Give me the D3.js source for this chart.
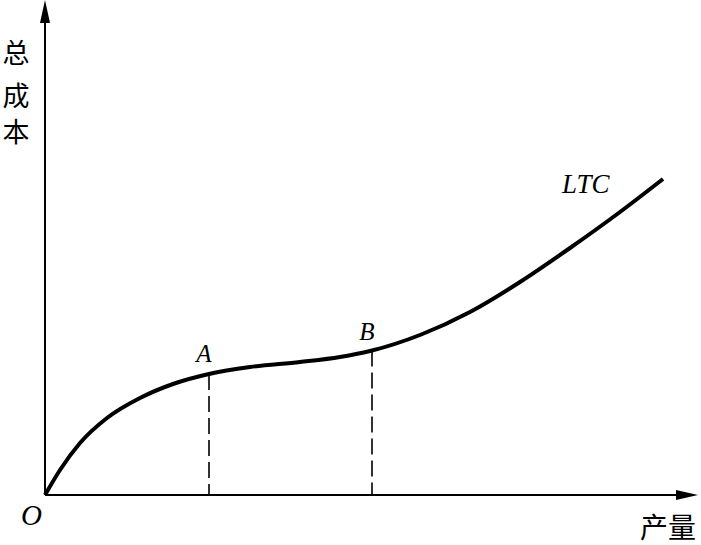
<!DOCTYPE html>
<html><head><meta charset="utf-8">
<script src="https://cdn.jsdelivr.net/npm/d3@7"></script>
<style>body{margin:0;background:#fff}svg{display:block}</style>
</head><body>
<svg id="c" width="701" height="545"></svg>
<script>
// LTC curve (output, total cost), arbitrary units
const ltcX = [0, 15, 35, 62, 95, 128, 164, 205, 255, 295, 327, 375, 425, 475, 525, 575, 618];
const ltcY = [0, 25, 52, 77, 97, 111, 121, 128, 133, 138, 144.5, 160, 183, 213, 247, 283, 316];
const markNames = ["A", "B"];
const markX = [164, 327];
const markY = [121, 144.5];
const xLabel = "产量";
const yLabel = ["总", "成", "本"];
const curveName = "LTC";
const originName = "O";

const svg = d3.select("#c");
const x = d3.scaleLinear().domain([0, 652]).range([45, 697]);
const y = d3.scaleLinear().domain([0, 495]).range([495, 0]);

// axes
svg.append("line").attr("x1", x(0)).attr("y1", y(0)).attr("x2", x(634)).attr("y2", y(0))
  .attr("stroke", "#000").attr("stroke-width", 2);
svg.append("line").attr("x1", x(0)).attr("y1", y(0)).attr("x2", x(0)).attr("y2", y(477))
  .attr("stroke", "#000").attr("stroke-width", 2);
// arrowheads
svg.append("path").attr("d", `M${x(653)},${y(0)} L${x(631)},${y(0)-5} L${x(631)},${y(0)+5} Z`).attr("fill", "#000");
svg.append("path").attr("d", `M${x(0)},${y(495)} L${x(0)-5},${y(472)} L${x(0)+5},${y(472)} Z`).attr("fill", "#000");

// dashed lines
const marks = markNames.map((n, i) => ({n, x: markX[i], y: markY[i]}));
svg.selectAll("line.d").data(marks).enter().append("line")
  .attr("x1", d => x(d.x)).attr("x2", d => x(d.x))
  .attr("y1", d => y(d.y)).attr("y2", y(0))
  .attr("stroke", "#000").attr("stroke-width", 1.6).attr("stroke-dasharray", "16,6");

// curve
const pts = ltcX.map((v, i) => [v, ltcY[i]]);
svg.append("path").datum(pts)
  .attr("d", d3.line().x(d => x(d[0])).y(d => y(d[1])).curve(d3.curveMonotoneX))
  .attr("fill", "none").attr("stroke", "#000").attr("stroke-width", 4).attr("stroke-linecap", "butt");

const serif = "'Liberation Serif','DejaVu Serif',serif";
svg.selectAll("text.m").data(marks).enter().append("text")
  .attr("x", d => x(d.x) - 5).attr("y", (d, i) => i === 0 ? 362 : 340)
  .attr("text-anchor", "middle").attr("font-family", serif).attr("font-style", "italic")
  .attr("font-size", 25).text(d => d.n);

svg.append("text").attr("x", 562).attr("y", 193).attr("font-family", serif)
  .attr("font-style", "italic").attr("font-size", 27).text(curveName);
svg.append("text").attr("x", 21).attr("y", 525).attr("font-family", serif)
  .attr("font-style", "italic").attr("font-size", 29).text(originName);

const cjk = "'Noto Sans CJK SC','Noto Sans',sans-serif";
svg.selectAll("text.y").data(yLabel).enter().append("text")
  .attr("x", 16).attr("y", (d, i) => [51, 94, 130][i])
  .attr("text-anchor", "middle").attr("dominant-baseline", "central")
  .attr("font-family", cjk).attr("font-size", 27).text(d => d);
svg.append("text").attr("x", 696).attr("y", 526).attr("text-anchor", "end")
  .attr("dominant-baseline", "central").attr("font-family", cjk).attr("font-size", 28).text(xLabel);
</script>
</body></html>
